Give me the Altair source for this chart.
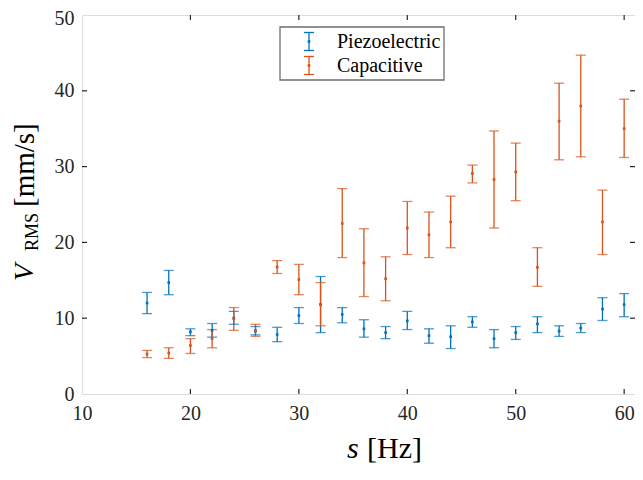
import altair as alt
import pandas as pd

freq = [16, 18, 20, 22, 24, 26, 28, 30, 32, 34, 36, 38, 40, 42, 44, 46, 48, 50, 52, 54, 56, 58, 60]

piezo_mean = [12.0, 14.7, 8.2, 8.4, 10.0, 8.3, 7.85, 10.35, 11.8, 10.5, 8.6, 8.1, 9.65, 7.7, 7.55, 9.5, 7.3, 8.1, 9.25, 8.3, 8.7, 11.2, 11.8]
piezo_lo = [10.6, 13.1, 7.7, 7.5, 9.2, 7.8, 6.9, 9.3, 8.1, 9.4, 7.5, 7.3, 8.5, 6.7, 6.0, 8.8, 6.1, 7.2, 8.1, 7.6, 8.1, 9.7, 10.2]
piezo_hi = [13.4, 16.3, 8.6, 9.3, 10.9, 8.9, 8.8, 11.4, 15.5, 11.4, 9.8, 8.9, 10.9, 8.6, 9.0, 10.2, 8.5, 8.9, 10.2, 9.0, 9.3, 12.7, 13.25]

cap_mean = [5.26, 5.4, 6.4, 7.3, 9.95, 8.4, 16.75, 15.1, 11.8, 22.5, 17.3, 15.2, 21.9, 21.0, 22.7, 29.1, 28.3, 29.3, 16.7, 36.0, 38.0, 22.7, 35.0]
cap_lo = [4.8, 4.7, 5.35, 6.1, 8.4, 7.6, 15.9, 13.1, 9.0, 18.0, 12.85, 12.3, 18.4, 18.0, 19.3, 27.85, 21.9, 25.5, 14.2, 30.9, 31.3, 18.4, 31.2]
cap_hi = [5.75, 6.1, 7.3, 8.5, 11.4, 9.2, 17.6, 17.1, 14.7, 27.1, 21.8, 18.1, 25.4, 24.0, 26.1, 30.2, 34.7, 33.1, 19.3, 41.0, 44.7, 26.9, 38.9]

series_names = ["Piezoelectric", "Capacitive"]
series_colors = ["#0072BD", "#D95319"]

x_ticks = [20, 30, 40, 50, 60]
y_ticks = [10, 20, 30, 40]

W, H = 553, 379
FONT = "Liberation Serif"
FRAME = "#262626"

df = pd.concat([
    pd.DataFrame({"s": freq, "v": piezo_mean, "lo": piezo_lo, "hi": piezo_hi, "series": series_names[0]}),
    pd.DataFrame({"s": freq, "v": cap_mean, "lo": cap_lo, "hi": cap_hi, "series": series_names[1]}),
])

xscale = alt.Scale(domain=[10, 61], nice=False, zero=False)
yscale = alt.Scale(domain=[0, 50], nice=False)
cscale = alt.Scale(domain=series_names, range=series_colors)

xaxis = alt.Axis(values=[10, 20, 30, 40, 50, 60], ticks=False, tickSize=0, domain=False, grid=False,
                 labelFont=FONT, labelFontSize=20, labelColor="#262626", labelPadding=9, title=None,
                 labelFlush=False)
yaxis = alt.Axis(values=[0, 10, 20, 30, 40, 50], ticks=False, tickSize=0, domain=False, grid=False,
                 labelFont=FONT, labelFontSize=20, labelColor="#262626", labelPadding=8, title=None,
                 labelOffset={"condition": {"test": "datum.value == 50", "value": 3}, "value": 0})

base = alt.Chart(df)

bars = base.mark_rule(strokeWidth=1.3).encode(
    x=alt.X("s:Q", scale=xscale, axis=xaxis),
    y=alt.Y("lo:Q", scale=yscale, axis=yaxis),
    y2="hi:Q",
    color=alt.Color("series:N", scale=cscale, legend=None),
)
caps_lo = base.mark_tick(orient="horizontal", size=10, thickness=1.3).encode(
    x=alt.X("s:Q", scale=xscale), y=alt.Y("lo:Q", scale=yscale),
    color=alt.Color("series:N", scale=cscale, legend=None))
caps_hi = base.mark_tick(orient="horizontal", size=10, thickness=1.3).encode(
    x=alt.X("s:Q", scale=xscale), y=alt.Y("hi:Q", scale=yscale),
    color=alt.Color("series:N", scale=cscale, legend=None))
dots = base.mark_square(filled=True, size=7, opacity=1).encode(
    x=alt.X("s:Q", scale=xscale), y=alt.Y("v:Q", scale=yscale),
    color=alt.Color("series:N", scale=cscale, legend=None))

# inward ticks on all four sides
xt = alt.Chart(pd.DataFrame({"t": x_ticks}))
yt = alt.Chart(pd.DataFrame({"t": y_ticks}))
tick_style = dict(color=FRAME, strokeWidth=1.2)
tb = xt.mark_rule(**tick_style).encode(x=alt.X("t:Q", scale=xscale), y=alt.value(H), y2=alt.value(H - 5))
tt = xt.mark_rule(**tick_style).encode(x=alt.X("t:Q", scale=xscale), y=alt.value(0), y2=alt.value(5))
tl = yt.mark_rule(**tick_style).encode(y=alt.Y("t:Q", scale=yscale), x=alt.value(0), x2=alt.value(5))
tr = yt.mark_rule(**tick_style).encode(y=alt.Y("t:Q", scale=yscale), x=alt.value(W), x2=alt.value(W - 5))

# legend (drawn by hand: error-bar glyph + label)
one = alt.Chart(pd.DataFrame({"a": [0]}))
leg_box = one.mark_rect(fill="white", stroke="#6e6e6e", strokeWidth=1.3).encode(
    x=alt.value(198), x2=alt.value(362), y=alt.value(12), y2=alt.value(65))
legend_rows = [26.5, 50.5]
legend_layers = []
for i, name in enumerate(series_names):
    r = legend_rows[i]
    col = series_colors[i]
    legend_layers.append(one.mark_rule(color=col, strokeWidth=1.3).encode(x=alt.value(227), y=alt.value(r - 9), y2=alt.value(r + 9)))
    legend_layers.append(one.mark_rule(color=col, strokeWidth=1.3).encode(x=alt.value(222), x2=alt.value(232), y=alt.value(r - 9)))
    legend_layers.append(one.mark_rule(color=col, strokeWidth=1.3).encode(x=alt.value(222), x2=alt.value(232), y=alt.value(r + 9)))
    legend_layers.append(one.mark_square(color=col, filled=True, size=7, opacity=1).encode(x=alt.value(227), y=alt.value(r)))
    legend_layers.append(one.mark_text(text=name, font=FONT, fontSize=20, align="left", baseline="middle", color="#000").encode(
        x=alt.value(255), y=alt.value(r)))

# axis titles (V with subscript RMS)
ytitle = [
    one.mark_text(text="V", font=FONT, fontSize=28, fontStyle="italic", angle=270, align="left", baseline="alphabetic", color="#000").encode(
        x=alt.value(-49), y=alt.value(266)),
    one.mark_text(text="RMS", font=FONT, fontSize=18, angle=270, align="left", baseline="alphabetic", color="#000").encode(
        x=alt.value(-44), y=alt.value(236)),
    one.mark_text(text="[mm/s]", font=FONT, fontSize=29, angle=270, align="left", baseline="alphabetic", color="#000").encode(
        x=alt.value(-48), y=alt.value(192)),
]
xtitle = [
    one.mark_text(text="s", font=FONT, fontSize=30, fontStyle="italic", align="left", baseline="alphabetic", color="#000").encode(
        x=alt.value(265), y=alt.value(443)),
    one.mark_text(text="[Hz]", font=FONT, fontSize=30, align="left", baseline="alphabetic", color="#000").encode(
        x=alt.value(285), y=alt.value(443)),
]

chart = alt.layer(
    bars, caps_lo, caps_hi, dots, tb, tt, tl, tr, leg_box, *legend_layers, *ytitle, *xtitle
).properties(
    width=W, height=H,
    autosize=alt.AutoSizeParams(type="none"),
    padding={"left": 74, "top": 7, "right": 0, "bottom": 70},
).configure_view(stroke=FRAME, strokeWidth=1.3).configure(background="white")

chart.save("out.html", embed_options={"renderer": "svg", "actions": False})
